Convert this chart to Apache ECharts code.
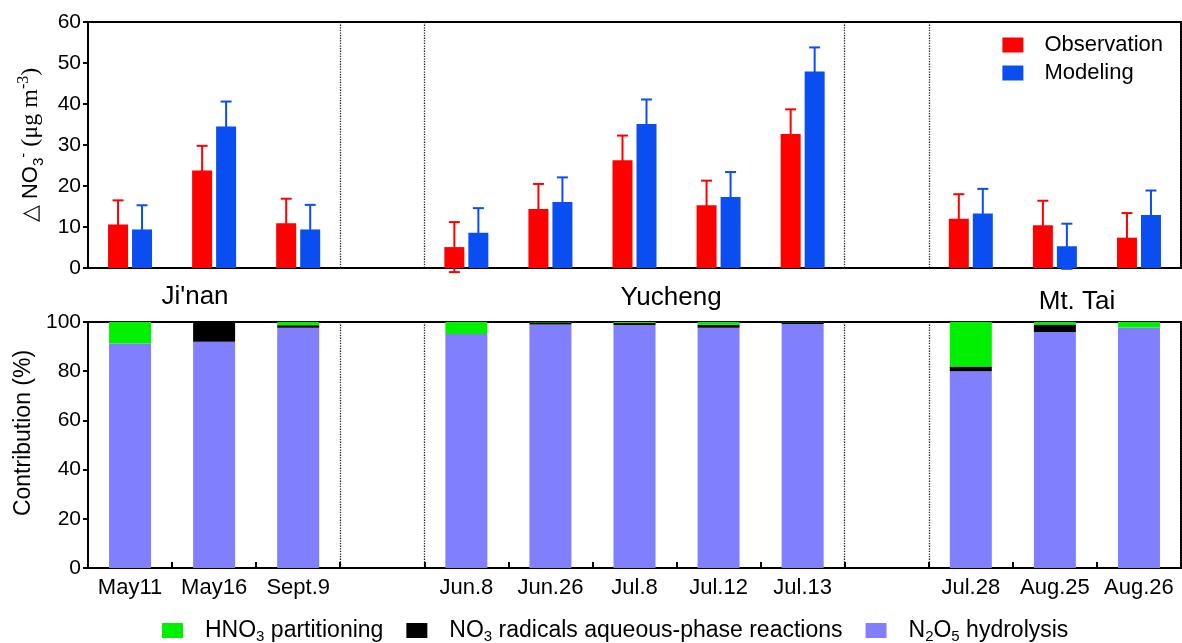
<!DOCTYPE html>
<html>
<head>
<meta charset="utf-8">
<script src="https://cdn.jsdelivr.net/npm/echarts@6/dist/echarts.min.js"></script>
<style>html,body{margin:0;padding:0;background:#fff}#c{width:1182px;height:643px}</style>
</head>
<body>
<div id="c"></div>
<script>
// ---- data ----
const categories = ['May11','May16','Sept.9','','Jun.8','Jun.26','Jul.8','Jul.12','Jul.13',' ','Jul.28','Aug.25','Aug.26'];
const observation    = [10.6, 23.8, 10.9, null, 5.1, 14.4, 26.3, 15.3, 32.7, null, 12.0, 10.4, 7.4];
const observationErr = [5.9, 6.0, 6.0, null, 6.1, 6.1, 6.0, 6.0, 6.0, null, 6.0, 6.0, 6.0];
const modeling       = [9.4, 34.5, 9.4, null, 8.6, 16.1, 35.1, 17.3, 47.9, null, 13.3, 5.3, 12.9];
const modelingErr    = [5.9, 6.1, 6.0, null, 6.0, 6.0, 6.0, 6.1, 5.9, null, 6.0, 5.5, 6.0];
const n2o5Hydrolysis = [91.3, 92.0, 97.7, null, 95.1, 99.0, 98.8, 97.7, 99.2, null, 80.0, 95.9, 97.8];
const no3Radicals    = [0, 8.0, 1.0, null, 0, 0.8, 0.8, 1.2, 0.7, null, 1.9, 3.1, 0];
const hno3Partition  = [8.7, 0, 1.3, null, 4.9, 0.2, 0.4, 1.1, 0.1, null, 18.1, 1.0, 2.2];
const topTicks = {min: 0, max: 60, interval: 10};
const bottomTicks = {min: 0, max: 100, interval: 20};
const sites = [{name: "Ji'nan", x: 195, y: 297}, {name: 'Yucheng', x: 671, y: 298}, {name: 'Mt. Tai', x: 1077, y: 302}];
const separatorIdx = [3, 4, 9, 10];

// ---- style ----
const FONT = "'Liberation Sans', Arial, sans-serif";
const SERIF = "'Liberation Serif', 'Times New Roman', serif";
const RED = '#ff0000', BLUE = '#0a4ef2', GREEN = '#00f000', BLACK = '#000000', PURPLE = '#8080ff';
const SUBRICH = {
  a: {fontSize: 23, fontFamily: FONT, color: '#000', lineHeight: 28},
  s: {fontSize: 15, fontFamily: FONT, color: '#000', lineHeight: 15, verticalAlign: 'bottom'}
};

function errData(vals, errs) {
  const out = [];
  vals.forEach((v, i) => { if (v != null) out.push([i, v, errs[i]]); });
  return out;
}
function errRender(offset, color) {
  return function (params, api) {
    const idx = api.value(0), v = api.value(1), e = api.value(2);
    const top = api.coord([idx, v + e]);
    const bot = api.coord([idx, v - e]);
    const x = top[0] + offset;
    const cap = 5.5;
    const st = {stroke: color, lineWidth: 2};
    return {type: 'group', children: [
      {type: 'line', shape: {x1: x, y1: top[1], x2: x, y2: bot[1]}, style: st},
      {type: 'line', shape: {x1: x - cap, y1: top[1], x2: x + cap, y2: top[1]}, style: st},
      {type: 'line', shape: {x1: x - cap, y1: bot[1], x2: x + cap, y2: bot[1]}, style: st}
    ]};
  };
}
const sepLine = {show: true, interval: (i) => separatorIdx.indexOf(i) >= 0, lineStyle: {type: 'dotted', color: '#222', width: 1.3}};

const legendNames = {
  'HNO3 partitioning': '{a|HNO}{s|3}{a| partitioning}',
  'NO3 radicals aqueous-phase reactions': '{a|NO}{s|3}{a| radicals aqueous-phase reactions}',
  'N2O5 hydrolysis': '{a|N}{s|2}{a|O}{s|5}{a| hydrolysis}'
};

const chart = echarts.init(document.getElementById('c'), null, {renderer: 'canvas'});
chart.setOption({
  animation: false,
  backgroundColor: '#fff',
  grid: [
    {left: 88, top: 22, width: 1093, height: 246, show: true, borderColor: '#000', borderWidth: 2, backgroundColor: 'transparent'},
    {left: 88, top: 322, width: 1093, height: 246, show: true, borderColor: '#000', borderWidth: 2, backgroundColor: 'transparent'}
  ],
  legend: [
    {
      data: ['Observation', 'Modeling'], orient: 'vertical', right: 14, top: 29, itemWidth: 21, itemHeight: 15, itemGap: 6,
      icon: 'rect', align: 'left',
      textStyle: {fontSize: 22, fontFamily: FONT, color: '#000', padding: [0, 0, 0, 16]}
    },
    {
      data: ['HNO3 partitioning', 'NO3 radicals aqueous-phase reactions', 'N2O5 hydrolysis'],
      left: 162, top: 619, padding: 0, itemWidth: 21, itemHeight: 15, itemGap: 23, icon: 'rect',
      formatter: (n) => legendNames[n],
      textStyle: {padding: [0, 0, 0, 17], rich: SUBRICH}
    }
  ],
  xAxis: [
    {type: 'category', gridIndex: 0, data: categories, boundaryGap: true,
     axisLine: {lineStyle: {color: '#000', width: 2}}, axisTick: {show: false}, axisLabel: {show: false},
     splitLine: sepLine},
    {type: 'category', gridIndex: 1, data: categories, boundaryGap: true,
     axisLine: {lineStyle: {color: '#000', width: 2}},
     axisTick: {show: true, inside: true, length: 6, interval: 0, lineStyle: {color: '#000', width: 2}},
     axisLabel: {interval: 0, fontSize: 22, fontFamily: FONT, color: '#000', margin: 9},
     splitLine: sepLine}
  ],
  yAxis: [
    {type: 'value', gridIndex: 0, min: topTicks.min, max: topTicks.max, interval: topTicks.interval,
     axisLine: {show: true, lineStyle: {color: '#000', width: 2}},
     axisTick: {show: true, length: 5, lineStyle: {color: '#000', width: 2}},
     axisLabel: {fontSize: 21, fontFamily: FONT, color: '#000', margin: 7}, splitLine: {show: false},
     name: '{t|△ NO}{sub|3}{sup|-}{t| }{s|(μg m}{sup2|-3}{s|)}',
     nameLocation: 'middle', nameRotate: 90, nameGap: 42,
     nameTextStyle: {rich: {
       t: {fontSize: 22, fontFamily: FONT, color: '#000', lineHeight: 30},
       sub: {fontSize: 15, fontFamily: FONT, color: '#000', lineHeight: 15, verticalAlign: 'bottom'},
       sup: {fontSize: 15, fontFamily: FONT, color: '#000', lineHeight: 15, verticalAlign: 'top'},
       s: {fontSize: 24, fontFamily: SERIF, color: '#000', lineHeight: 30},
       sup2: {fontSize: 16, fontFamily: SERIF, color: '#000', lineHeight: 16, verticalAlign: 'top'}
     }}},
    {type: 'value', gridIndex: 1, min: bottomTicks.min, max: bottomTicks.max, interval: bottomTicks.interval,
     axisLine: {show: true, lineStyle: {color: '#000', width: 2}},
     axisTick: {show: true, length: 5, lineStyle: {color: '#000', width: 2}},
     axisLabel: {fontSize: 21, fontFamily: FONT, color: '#000', margin: 7}, splitLine: {show: false},
     name: 'Contribution (%)', nameLocation: 'middle', nameRotate: 90, nameGap: 46,
     nameTextStyle: {fontSize: 23, fontFamily: FONT, color: '#000', padding: [0, 0, 0, 24]}}
  ],
  series: [
    {name: 'Observation', type: 'bar', xAxisIndex: 0, yAxisIndex: 0, data: observation, barWidth: 20, barGap: '20%', itemStyle: {color: RED}},
    {name: 'Modeling', type: 'bar', xAxisIndex: 0, yAxisIndex: 0, data: modeling, barWidth: 20, barGap: '20%', itemStyle: {color: BLUE}},
    {name: 'obsErr', type: 'custom', xAxisIndex: 0, yAxisIndex: 0, clip: false, z: 3,
     renderItem: errRender(-12, RED), data: errData(observation, observationErr), encode: {x: 0, y: 1}},
    {name: 'modErr', type: 'custom', xAxisIndex: 0, yAxisIndex: 0, clip: false, z: 3,
     renderItem: errRender(12, BLUE), data: errData(modeling, modelingErr), encode: {x: 0, y: 1}},
    {name: 'N2O5 hydrolysis', type: 'bar', stack: 'c', xAxisIndex: 1, yAxisIndex: 1, data: n2o5Hydrolysis, barWidth: 42, itemStyle: {color: PURPLE}},
    {name: 'NO3 radicals aqueous-phase reactions', type: 'bar', stack: 'c', xAxisIndex: 1, yAxisIndex: 1, data: no3Radicals, barWidth: 42, itemStyle: {color: BLACK}},
    {name: 'HNO3 partitioning', type: 'bar', stack: 'c', xAxisIndex: 1, yAxisIndex: 1, data: hno3Partition, barWidth: 42, itemStyle: {color: GREEN}}
  ],
  graphic: sites.map(s => ({
    type: 'text', x: s.x, y: s.y,
    style: {text: s.name, fontSize: 26, fontFamily: FONT, fill: '#000', align: 'center', verticalAlign: 'middle'}
  }))
});
</script>
</body>
</html>
